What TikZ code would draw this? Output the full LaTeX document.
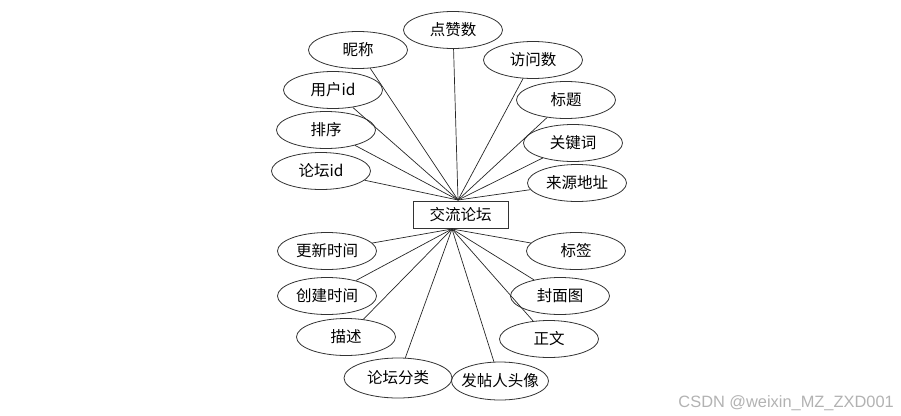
\documentclass[tikz,border=0pt]{standalone}
\usepackage{fontspec}
\setmainfont{Liberation Sans}
\newfontfamily\cjk{Noto Sans CJK SC}
\usetikzlibrary{shapes.geometric}

\begin{document}
\begin{tikzpicture}[x=1pt,y=-1pt,
        attr/.style={ellipse, draw=black!80, line width=0.8pt, minimum width=99pt, minimum height=37pt,
            inner xsep=-45pt, inner ysep=0pt, font=\cjk\fontsize{15.5}{18}\selectfont},
        link/.style={draw=black!85, line width=0.7pt}]
        \useasboundingbox (0,0) rectangle (901,415);

        % entity
        \node [draw=black!80, line width=0.8pt, minimum width=95pt, minimum height=27pt, inner sep=0pt,
            font=\cjk\fontsize{15.5}{18}\selectfont] (forum) at (460.5,214.5) {交流论坛};
        \coordinate (up) at (458,200);
        \coordinate (down) at (452,229);

        % attributes above
        \node [attr] (zan) at (453,30) {点赞数};
        \node [attr] (nick) at (358,50) {昵称};
        \node [attr] (visit) at (533,60) {访问数};
        \node [attr] (uid) at (333,90) {用户id};
        \node [attr] (title) at (566,100) {标题};
        \node [attr] (sort) at (326,130) {排序};
        \node [attr] (keyword) at (573,143) {关键词};
        \node [attr] (fid) at (321,171) {论坛id};
        \node [attr] (source) at (577,183) {来源地址};

        % attributes below
        \node [attr] (update) at (327,251) {更新时间};
        \node [attr] (tag) at (576,251) {标签};
        \node [attr] (create) at (327,296) {创建时间};
        \node [attr] (cover) at (560,296) {封面图};
        \node [attr] (desc) at (346,337) {描述};
        \node [attr] (body) at (549,339) {正文};
        \node [attr, minimum width=108pt, minimum height=40pt] (cat) at (398,378) {论坛分类};
        \node [attr, minimum width=97pt, minimum height=38pt] (avatar) at (500,381) {发帖人头像};

        \foreach \n in {zan,nick,visit,uid,title,sort,keyword,fid,source}
            \draw [link] (\n) -- (up);
        \foreach \n in {update,tag,create,cover,desc,body,cat,avatar}
            \draw [link] (\n) -- (down);

        \node [text=black!30, font=\fontsize{16.4}{18}\selectfont, anchor=base east, inner sep=0pt] (mark) at (894,407) {CSDN @weixin\_MZ\_ZXD001};
    \end{tikzpicture}
\end{document}
